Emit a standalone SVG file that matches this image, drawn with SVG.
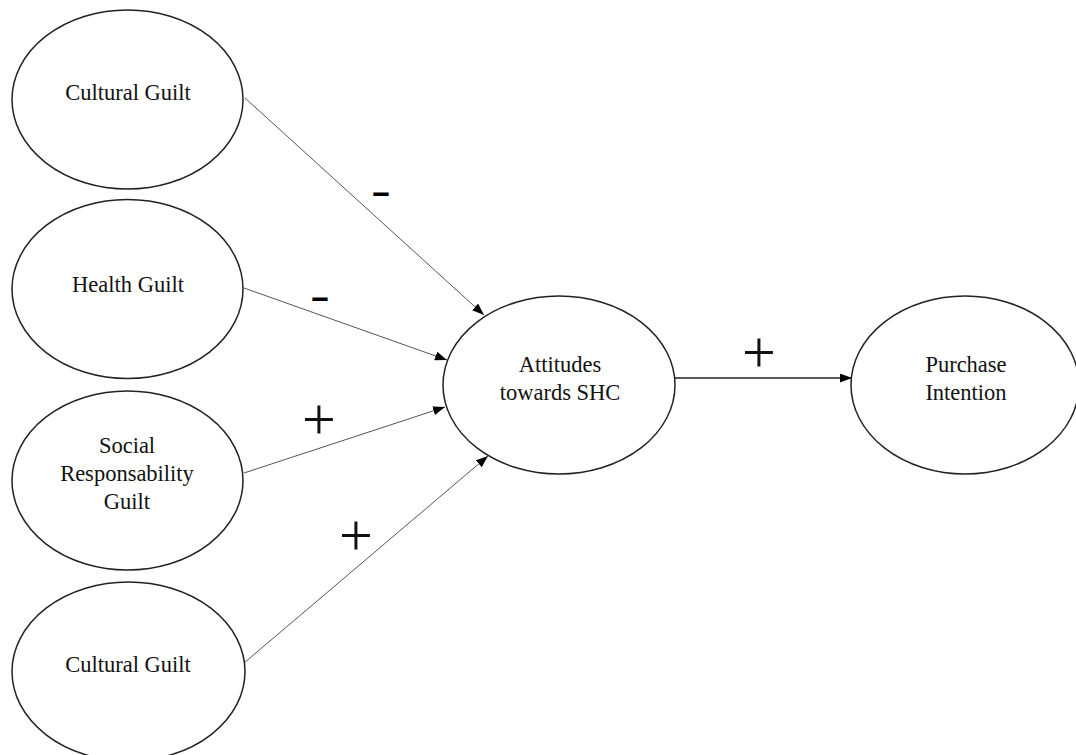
<svg xmlns="http://www.w3.org/2000/svg" width="1076" height="755" viewBox="0 0 1076 755">
<style>
.node ellipse{fill:#fff;stroke:#222;stroke-width:1.5}
.node text{font-family:"Liberation Serif","Times New Roman",serif;font-size:22.5px;fill:#111;text-anchor:middle}
.conn line{stroke:#555;stroke-width:1}
.conn line.main{stroke:#222;stroke-width:1.4}
.sign{font-family:"Liberation Serif","Times New Roman",serif;font-size:60px;fill:#111;text-anchor:middle}
.minus{font-family:"Liberation Sans",Arial,sans-serif;font-weight:bold;font-size:30px;fill:#000;text-anchor:middle}
</style>
<defs>
<marker id="arr" markerUnits="userSpaceOnUse" markerWidth="12" markerHeight="9" refX="12" refY="4.5" orient="auto">
<path d="M0,0 L12,4.5 L0,9 z" fill="#000"/>
</marker>
</defs>
<rect width="1076" height="755" fill="#fff"/>
<g id="connectors" class="conn">
<line x1="245" y1="98" x2="484" y2="315" marker-end="url(#arr)"/>
<line x1="244" y1="288" x2="447" y2="360" marker-end="url(#arr)"/>
<line x1="244" y1="473" x2="445" y2="407" marker-end="url(#arr)"/>
<line x1="244" y1="663" x2="488" y2="456" marker-end="url(#arr)"/>
<line class="main" x1="675" y1="378" x2="852" y2="378" marker-end="url(#arr)"/>
</g>
<g id="labels">
<text class="minus" transform="translate(381,202) scale(2,1)">-</text>
<text class="minus" transform="translate(320,307) scale(2,1)">-</text>
<text class="sign" x="319" y="439">+</text>
<text class="sign" x="356" y="555">+</text>
<text class="sign" x="759" y="372">+</text>
</g>
<g id="cultural-guilt-1" class="node">
<ellipse cx="127.5" cy="99.5" rx="115.5" ry="89.5"/>
<text x="128" y="100">Cultural Guilt</text>
</g>
<g id="health-guilt" class="node">
<ellipse cx="127.5" cy="289" rx="115.5" ry="89.5"/>
<text x="128" y="292">Health Guilt</text>
</g>
<g id="social-responsability-guilt" class="node">
<ellipse cx="127.5" cy="480.5" rx="115.5" ry="89.5"/>
<text x="127" y="453">Social</text>
<text x="127" y="481">Responsability</text>
<text x="127" y="509">Guilt</text>
</g>
<g id="cultural-guilt-2" class="node">
<ellipse cx="128.5" cy="671.5" rx="116.5" ry="89.5"/>
<text x="128" y="672">Cultural Guilt</text>
</g>
<g id="attitudes" class="node">
<ellipse cx="559" cy="385" rx="116" ry="89"/>
<text x="560" y="372">Attitudes</text>
<text x="560" y="400">towards SHC</text>
</g>
<g id="purchase-intention" class="node">
<ellipse cx="965" cy="385" rx="114" ry="89"/>
<text x="966" y="372">Purchase</text>
<text x="966" y="400">Intention</text>
</g>
</svg>
